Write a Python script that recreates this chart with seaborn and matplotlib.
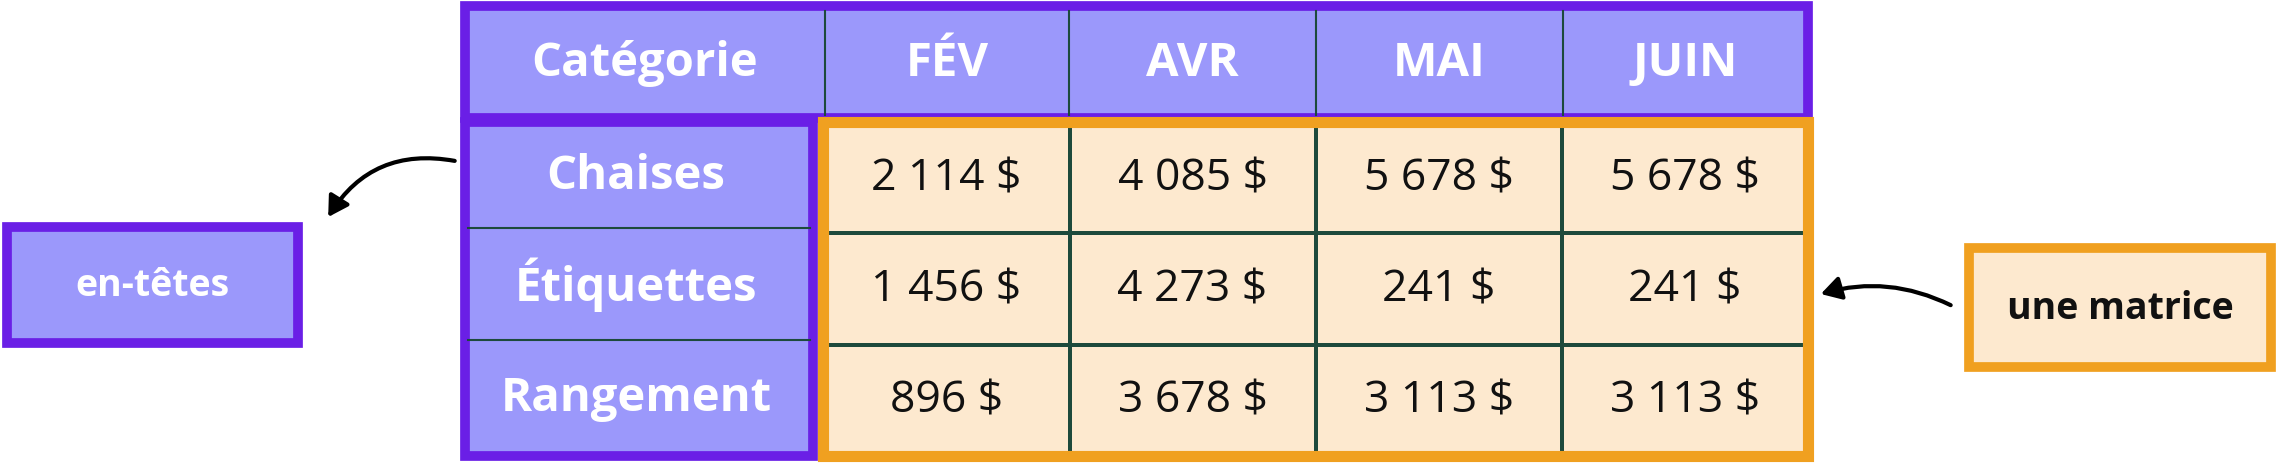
import numpy as np
import pandas as pd
import matplotlib.pyplot as plt
from matplotlib.patches import Rectangle, FancyArrowPatch
from matplotlib.colors import ListedColormap
import seaborn as sns

# chart data
months = ["FÉV", "AVR", "MAI", "JUIN"]
categories = ["Chaises", "Étiquettes", "Rangement"]
chaises = [2114, 4085, 5678, 5678]
etiquettes = [1456, 4273, 241, 241]
rangement = [896, 3678, 3113, 3113]
corner_label = "Catégorie"
left_note = "en-têtes"
right_note = "une matrice"

PURPLE = "#9b98fb"
PURPLE_EDGE = "#6a1fe6"
ORANGE = "#fde9cf"
ORANGE_EDGE = "#f0a020"
FONT = "Open Sans"

def money(v):
    return f"{v:,}".replace(",", " ") + " $"

df = pd.DataFrame([chaises, etiquettes, rangement], index=categories, columns=months)
labels = df.map(money)

W, H = 1568, 320
fig = plt.figure(figsize=(22.77, 4.64), dpi=100)
ax = fig.add_axes([0, 0, 1, 1])
ax.set_xlim(0, W)
ax.set_ylim(H, 0)
ax.axis("off")

# header row
ax.add_patch(Rectangle((320, 5), 925, 77, facecolor=PURPLE, edgecolor=PURPLE_EDGE, lw=7))
col_x = [320, 568, 736, 906, 1076, 1245]
for x in col_x[1:-1]:
    ax.plot([x, x], [8, 80], color="#1d4a3c", lw=1.5)
heads = [corner_label] + months
for i, t in enumerate(heads):
    ax.text((col_x[i] + col_x[i + 1]) / 2, 44, t, ha="center", va="center",
            color="white", fontsize=34, fontweight="bold", family=FONT)

# row header box
ax.add_patch(Rectangle((320, 85), 240, 230, facecolor=PURPLE, edgecolor=PURPLE_EDGE, lw=7))
row_y = [85, 158, 235, 315]
for y in row_y[1:-1]:
    ax.plot([322, 558], [y, y], color="#1d4a3c", lw=1.5)
for i, c in enumerate(categories):
    ax.text(438, (row_y[i] + row_y[i + 1]) / 2, c, ha="center", va="center",
            color="white", fontsize=34, fontweight="bold", family=FONT)

# matrix as a heatmap
hx0, hx1, hy0, hy1 = 567, 1245, 85, 315
hax = fig.add_axes([hx0 / W, 1 - hy1 / H, (hx1 - hx0) / W, (hy1 - hy0) / H])
sns.heatmap(df, ax=hax, cmap=ListedColormap([ORANGE]), cbar=False, annot=labels, fmt="",
            annot_kws={"fontsize": 32, "color": "#111111", "family": FONT},
            linewidths=1.5, linecolor="#1d4a3c")
hax.set_xticks([]); hax.set_yticks([])
hax.set_xlabel(""); hax.set_ylabel("")
ax.add_patch(Rectangle((hx0, hy0), hx1 - hx0, hy1 - hy0, facecolor="none",
                       edgecolor=ORANGE_EDGE, lw=8, zorder=5))
ax.set_zorder(2); ax.patch.set_alpha(0)

# side notes
ax.add_patch(Rectangle((5, 157), 200, 80, facecolor=PURPLE, edgecolor=PURPLE_EDGE, lw=7))
ax.text(105, 197, left_note, ha="center", va="center", color="white",
        fontsize=27, fontweight="bold", family=FONT)
ax.add_patch(Rectangle((1356, 172), 208, 82, facecolor=ORANGE, edgecolor=ORANGE_EDGE, lw=7))
ax.text(1460, 213, right_note, ha="center", va="center", color="#111111",
        fontsize=27, fontweight="bold", family=FONT)

ax.add_patch(FancyArrowPatch((315, 112), (225, 152), connectionstyle="arc3,rad=0.35",
                             arrowstyle="-|>,head_length=12,head_width=7", lw=3, color="black"))
ax.add_patch(FancyArrowPatch((1345, 212), (1252, 204), connectionstyle="arc3,rad=0.2",
                             arrowstyle="-|>,head_length=12,head_width=7", lw=3, color="black"))

fig.savefig("out.png", dpi=100, facecolor="white")
